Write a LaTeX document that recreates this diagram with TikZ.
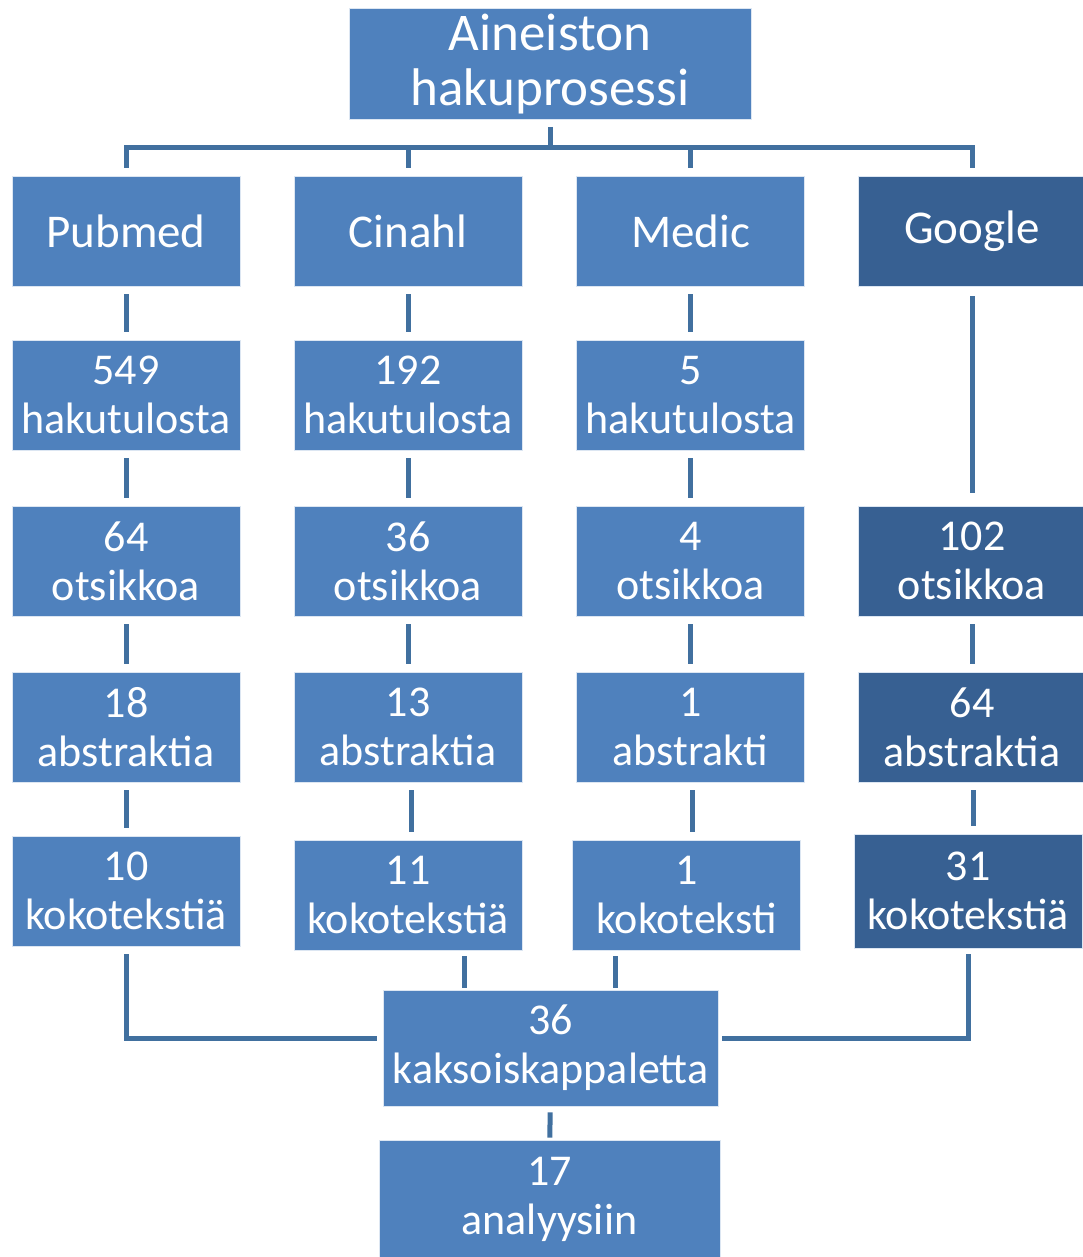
\documentclass[tikz,border=0pt]{standalone}
\usepackage{fontspec}
\setmainfont{Carlito}
\definecolor{boxlight}{HTML}{4F81BD}
\definecolor{boxdark}{HTML}{376092}
\definecolor{linec}{HTML}{41709F}
\begin{document}
\begin{tikzpicture}[x=1pt,y=-1pt,
  box/.style={fill=boxlight, draw=white!80!boxlight, line width=0.8pt, text=white, inner sep=0pt,
    minimum width=228pt, minimum height=110pt, align=center,
    font=\fontsize{44}{49}\selectfont},
  dbox/.style={box, fill=boxdark},
  head/.style={font=\fontsize{47}{52}\selectfont},
  conn/.style={draw=linec, line width=5pt, line join=miter},
  gap/.style={shorten <=8pt, shorten >=8pt}]
\useasboundingbox (0,0) rectangle (1083,1257);
% top
\node[box, minimum width=402pt, minimum height=111pt, font=\fontsize{53}{55}\selectfont] (top) at (550,64) {Aineiston\\hakuprosessi};
% row 1
\node[box, head] (pub1) at (126,231) {Pubmed};
\node[box, head] (cin1) at (408,231) {Cinahl};
\node[box, head] (med1) at (690.5,231) {Medic};
\node[dbox, head] (goo1) at (972,231) {Google};
% row 2
\node[box] (pub2) at (126,395) {549\\hakutulosta};
\node[box] (cin2) at (408,395) {192\\hakutulosta};
\node[box] (med2) at (690.5,395) {5\\hakutulosta};
% row 3
\node[box] (pub3) at (126,561) {64\\otsikkoa};
\node[box] (cin3) at (408,561) {36\\otsikkoa};
\node[box] (med3) at (690.5,561) {4\\otsikkoa};
\node[dbox] (goo3) at (972,561) {102\\otsikkoa};
% row 4
\node[box] (pub4) at (126,727) {18\\abstraktia};
\node[box] (cin4) at (408,727) {13\\abstraktia};
\node[box] (med4) at (690.5,727) {1\\abstrakti};
\node[dbox] (goo4) at (972,727) {64\\abstraktia};
% row 5
\node[box] (pub5) at (126,891) {10\\kokotekstiä};
\node[box] (cin5) at (408,895) {11\\kokotekstiä};
\node[box] (med5) at (686.5,895) {1\\kokoteksti};
\node[dbox, minimum height=114pt] (goo5) at (968,891) {31\\kokotekstiä};
% merge
\node[box, minimum width=335pt, minimum height=116pt] (kak) at (550.5,1048) {36\\kaksoiskappaletta};
\node[box, minimum width=341pt, minimum height=118pt] (ana) at (549.5,1199) {17\\analyysiin};
% top tree
\coordinate (bus) at (550,148);
\draw[conn] ([yshift=-7pt]top.south) -- (bus);
\draw[conn] ([yshift=8pt]pub1.north) |- (goo1.north |- bus) -- ([yshift=8pt]goo1.north);
\draw[conn] (cin1.north |- bus) -- ([yshift=8pt]cin1.north);
\draw[conn] (med1.north |- bus) -- ([yshift=8pt]med1.north);
% columns
\draw[conn, gap] (pub1) -- (pub2);
\draw[conn, gap] (pub2) -- (pub3);
\draw[conn, gap] (pub3) -- (pub4);
\draw[conn, gap] (pub4) -- (pub5);
\draw[conn, gap] (cin1) -- (cin2);
\draw[conn, gap] (cin2) -- (cin3);
\draw[conn, gap] (cin3) -- (cin4);
\draw[conn, gap] (cin4.south -| 411,0) -- (cin5.north -| 411,0);
\draw[conn, gap] (med1) -- (med2);
\draw[conn, gap] (med2) -- (med3);
\draw[conn, gap] (med3) -- (med4);
\draw[conn, gap] (med4.south -| 692,0) -- (med5.north -| 692,0);
\draw[conn, shorten <=10pt, shorten >=13pt] (goo1) -- (goo3);
\draw[conn, gap] (goo3) -- (goo4);
\draw[conn, gap] (goo4.south -| 973,0) -- (goo5.north -| 973,0);
% to merge
\coordinate (kl) at (377,1038);
\coordinate (kr) at (722,1038);
\draw[conn] ([yshift=-8pt]pub5.south) |- (kl);
\draw[conn] ([yshift=-6pt]goo5.south) |- (kr);
\draw[conn, shorten <=6pt, shorten >=2pt] (cin5.south -| 464,0) -- (kak.north -| 464,0);
\draw[conn, shorten <=6pt, shorten >=2pt] (med5.south -| 615,0) -- (kak.north -| 615,0);
\draw[conn, shorten <=6pt, shorten >=2pt] (kak) -- (ana);
\end{tikzpicture}
\end{document}
